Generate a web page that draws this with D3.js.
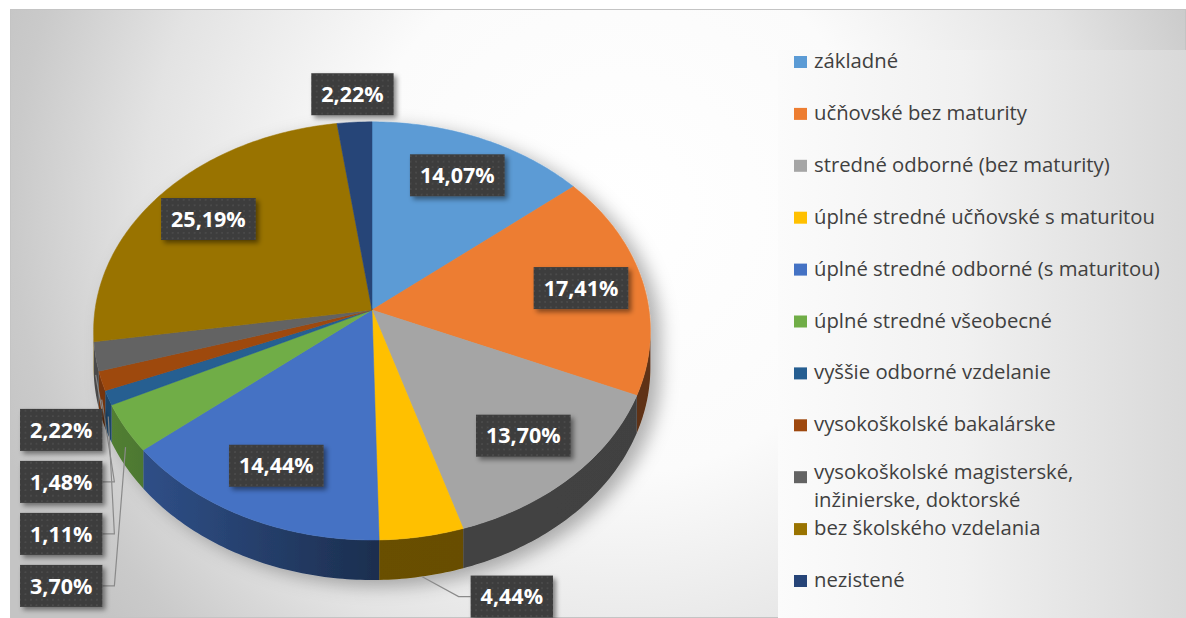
<!DOCTYPE html>
<html>
<head>
<meta charset="utf-8">
<script src="https://cdn.jsdelivr.net/npm/d3@7"></script>
<style>
  body { margin: 0; background: #fff; }
  svg { display: block; font-family: "Open Sans", sans-serif; }
</style>
</head>
<body>
<div id="chart"></div>
<script>
(function(d3) {
  'use strict';

  // data (share of respondents, %)
  var categories = [
    "základné",
    "učňovské bez maturity",
    "stredné odborné (bez maturity)",
    "úplné stredné učňovské s maturitou",
    "úplné stredné odborné (s maturitou)",
    "úplné stredné všeobecné",
    "vyššie odborné vzdelanie",
    "vysokoškolské bakalárske",
    "vysokoškolské magisterské, inžinierske, doktorské",
    "bez školského vzdelania",
    "nezistené"
  ];
  var shares = [14.07, 17.41, 13.70, 4.44, 14.44, 3.70, 1.11, 1.48, 2.22, 25.19, 2.22];
  var palette = ["#5b9bd5", "#ed7d31", "#a5a5a5", "#ffc000", "#4472c4", "#70ad47",
                 "#255e91", "#9e480e", "#636363", "#997300", "#264478"];

  var width = 1186, height = 618;

  // 3d pie geometry (perspective tilt)
  var cx = 372, cy = 310, rx = 277, ry = 207, tilt = 0.1, depth = 36;

  var sk = d3.formatLocale({decimal: ",", thousands: " ", grouping: [3], currency: ["", " €"]});
  var fmt = sk.format(".2f");

  var color = d3.scaleOrdinal().domain(categories).range(palette);

  var svg = d3.select('#chart').append('svg')
    .attr('width', width)
    .attr('height', height);

  var defs = svg.append('defs');

  var bg = defs.append('radialGradient').attr('id', 'bg')
    .attr('gradientUnits', 'userSpaceOnUse')
    .attr('cx', 620).attr('cy', 210).attr('r', 660);
  bg.append('stop').attr('offset', 0).attr('stop-color', '#ffffff');
  bg.append('stop').attr('offset', 0.4).attr('stop-color', '#fbfbfb');
  bg.append('stop').attr('offset', 0.72).attr('stop-color', '#e3e3e3');
  bg.append('stop').attr('offset', 0.92).attr('stop-color', '#cacaca');
  bg.append('stop').attr('offset', 1).attr('stop-color', '#c4c4c4');

  var lg = defs.append('linearGradient').attr('id', 'legbg')
    .attr('x1', 0).attr('x2', 1).attr('y1', 0).attr('y2', 0);
  lg.append('stop').attr('offset', 0).attr('stop-color', '#fbfbfb');
  lg.append('stop').attr('offset', 0.45).attr('stop-color', '#f1f1f1');
  lg.append('stop').attr('offset', 1).attr('stop-color', '#d9d9d9');

  var pat = defs.append('pattern').attr('id', 'dots')
    .attr('patternUnits', 'userSpaceOnUse')
    .attr('width', 5.5).attr('height', 5.5);
  pat.append('rect').attr('width', 5.5).attr('height', 5.5).attr('fill', '#3d3d3d');
  pat.append('circle').attr('cx', 2.75).attr('cy', 2.75).attr('r', 0.8).attr('fill', '#565656');

  var fPie = defs.append('filter').attr('id', 'pieShadow')
    .attr('x', '-15%').attr('y', '-15%').attr('width', '140%').attr('height', '140%');
  fPie.append('feDropShadow').attr('dx', 10).attr('dy', 6).attr('stdDeviation', 9)
    .attr('flood-color', '#000').attr('flood-opacity', 0.3);

  var fLab = defs.append('filter').attr('id', 'labShadow')
    .attr('x', '-20%').attr('y', '-20%').attr('width', '150%').attr('height', '160%');
  fLab.append('feDropShadow').attr('dx', 3).attr('dy', 3).attr('stdDeviation', 2.5)
    .attr('flood-color', '#000').attr('flood-opacity', 0.45);

  // chart area + legend box
  svg.append('rect')
    .attr('x', 10.5).attr('y', 9.5).attr('width', width - 11).attr('height', height - 10)
    .attr('fill', 'url(#bg)')
    .attr('stroke', '#c4c4c4');

  svg.append('rect')
    .attr('x', 778).attr('y', 50).attr('width', width - 778).attr('height', height - 50)
    .attr('fill', 'url(#legbg)');

  function proj(t, r, h) {
    var u = r * Math.sin(t), v = -r * Math.cos(t), w = 1 - tilt * v;
    return [cx + rx * u / w, cy + ry * v / w + h / w];
  }

  function arcPts(a0, a1, r, h) {
    var n = Math.max(2, Math.ceil((a1 - a0) / 0.015));
    return d3.range(n + 1).map(function(i) { return proj(a0 + (a1 - a0) * i / n, r, h); });
  }

  var line = d3.line();

  var pie = d3.pie().sort(null).value(function(d) { return d; });
  var arcs = pie(shares);

  var visA = Math.acos(-tilt), visB = 2 * Math.PI - Math.acos(-tilt);

  var gPie = svg.append('g').attr('filter', 'url(#pieShadow)');

  // side walls
  arcs.forEach(function(d, i) {
    var s0 = Math.max(d.startAngle, visA), s1 = Math.min(d.endAngle, visB);
    if (s1 <= s0) return;
    var c = d3.color(color(categories[i]));
    var gid = 'side' + i;
    var g = defs.append('linearGradient').attr('id', gid)
      .attr('gradientUnits', 'userSpaceOnUse')
      .attr('x1', cx - rx).attr('x2', cx + rx).attr('y1', 0).attr('y2', 0);
    g.append('stop').attr('offset', 0).attr('stop-color', c.darker(0.8));
    g.append('stop').attr('offset', 0.5).attr('stop-color', c.darker(2.5));
    g.append('stop').attr('offset', 1).attr('stop-color', c.darker(2.6));
    var pts = arcPts(s0, s1, 1, 0).concat(arcPts(s0, s1, 1, depth).reverse());
    gPie.append('path')
      .attr('d', line(pts) + 'Z')
      .attr('fill', 'url(#' + gid + ')');
  });

  // top faces
  gPie.selectAll('path.top')
    .data(arcs)
    .enter()
    .append('path')
    .attr('class', 'top')
    .attr('d', function(d) {
      return line([[cx, cy]].concat(arcPts(d.startAngle, d.endAngle, 1, 0))) + 'Z';
    })
    .attr('fill', function(d, i) { return color(categories[i]); })
    .attr('stroke', function(d, i) { return color(categories[i]); })
    .attr('stroke-width', 0.5);

  // data labels
  var labels = arcs.map(function(d, i) {
    var mid = (d.startAngle + d.endAngle) / 2;
    var o = {i: i, mid: mid, text: fmt(shares[i]) + '%', inside: shares[i] >= 5};
    if (o.inside) {
      o.pos = proj(mid, 0.77, 0);
    } else if (Math.cos(mid) > 0.5) {
      o.side = 'top';
      o.anchor = proj(mid, 1, 0);
    } else if (Math.sin(mid) >= 0) {
      o.side = 'right';
      o.anchor = proj(mid, 1, depth);
    } else {
      o.side = 'left';
      o.anchor = proj(mid, 1, depth / 2);
    }
    return o;
  });

  var gLab = svg.append('g');
  var gLead = gLab.append('g');

  var boxes = gLab.selectAll('g.lab')
    .data(labels)
    .enter()
    .append('g')
    .attr('class', 'lab');

  boxes.append('rect').attr('fill', 'url(#dots)').attr('filter', 'url(#labShadow)');
  boxes.append('text')
    .attr('text-anchor', 'middle')
    .attr('dy', '0.36em')
    .attr('fill', '#ffffff')
    .style('font-size', '21.5px')
    .style('font-weight', '700')
    .text(function(d) { return d.text; });

  boxes.each(function(d) {
    d.w = d3.select(this).select('text').node().getComputedTextLength() + 20;
    d.h = 42;
  });

  var leftOnes = labels.filter(function(d) { return d.side === 'left'; })
    .sort(function(a, b) { return a.anchor[1] - b.anchor[1]; });
  var leftTop = leftOnes.length ? leftOnes[0].anchor[1] + 55 : 0;
  leftOnes.forEach(function(d, j) {
    d.pos = [20 + d.w / 2, leftTop + j * 52];
    var xr = d.pos[0] + d.w / 2;
    if (j === 0) {
      // first one hangs right under its slice: leader drops onto the box top
      d.lead = [d.anchor, [d.anchor[0] + 6, d.pos[1] - d.h / 2]];
    } else {
      d.lead = [d.anchor, [xr + 12, d.pos[1]], [xr, d.pos[1]]];
    }
  });

  labels.forEach(function(d) {
    if (d.side === 'top') {
      d.pos = [d.anchor[0] - 2, d.anchor[1] - 28];
    } else if (d.side === 'right') {
      d.pos = [d.anchor[0] + 90, d.anchor[1] + 20];
      var xl = d.pos[0] - d.w / 2;
      d.lead = [d.anchor, [xl - 12, d.pos[1]], [xl, d.pos[1]]];
    }
  });

  gLead.selectAll('path')
    .data(labels.filter(function(d) { return d.lead; }))
    .enter()
    .append('path')
    .attr('d', function(d) { return line(d.lead); })
    .attr('fill', 'none')
    .attr('stroke', '#8a8a8a')
    .attr('stroke-width', 1.2);

  boxes.attr('transform', function(d) { return 'translate(' + d.pos[0] + ',' + d.pos[1] + ')'; });
  boxes.select('rect')
    .attr('x', function(d) { return -d.w / 2; })
    .attr('y', function(d) { return -d.h / 2; })
    .attr('width', function(d) { return d.w; })
    .attr('height', function(d) { return d.h; });

  // legend
  var legX = 794, legY = 68, legStep = 51.9, legMax = 362, legLine = 28, legLift = 4;

  var items = svg.append('g').selectAll('g')
    .data(categories)
    .enter()
    .append('g')
    .attr('transform', function(d, i) { return 'translate(' + legX + ',' + (legY + i * legStep) + ')'; });

  items.append('rect')
    .attr('x', 0).attr('y', -12)
    .attr('width', 13).attr('height', 12)
    .attr('fill', function(d) { return color(d); });

  items.append('text')
    .attr('x', 20)
    .attr('fill', '#404040')
    .style('font-size', '20.3px')
    .each(function(d) {
      var t = d3.select(this);
      var words = d.split(' ');
      var ln = [], tsp = t.append('tspan').attr('x', 20).attr('y', 0);
      var lineNo = 0;
      words.forEach(function(w) {
        ln.push(w);
        tsp.text(ln.join(' '));
        if (tsp.node().getComputedTextLength() > legMax && ln.length > 1) {
          ln.pop();
          tsp.text(ln.join(' '));
          ln = [w];
          lineNo++;
          tsp = t.append('tspan').attr('x', 20).text(w);
        }
      });
      // wrapped entries are lifted a bit so both lines fit above the next entry
      var spans = t.selectAll('tspan');
      var lift = spans.size() > 1 ? legLift : 0;
      spans.attr('y', function(s, j) { return j * legLine - lift; });
    });

})(window.d3);
</script>
</body>
</html>
